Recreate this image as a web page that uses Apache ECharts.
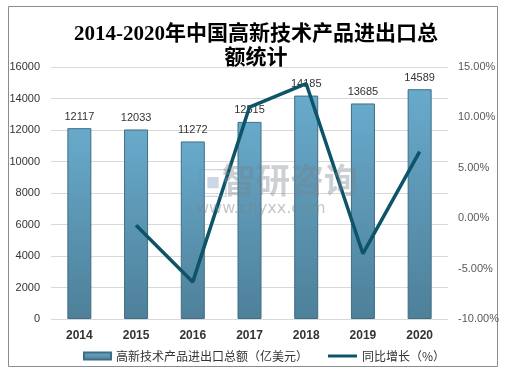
<!DOCTYPE html>
<html><head><meta charset="utf-8">
<script src="https://cdn.jsdelivr.net/npm/echarts@6/dist/echarts.min.js"></script>
<style>html,body{margin:0;padding:0;background:#fff}#c{width:528px;height:384px}</style>
</head><body><div id="c"></div>
<script>
var categories = ['2014','2015','2016','2017','2018','2019','2020'];
var totalValues = [12117, 12033, 11272, 12515, 14185, 13685, 14589];
var growthValues = [null, -0.69, -6.32, 11.03, 13.34, -3.52, 6.61];
var leftTicks = {min: 0, max: 16000, interval: 2000};
var rightTicks = {min: -10, max: 15, interval: 5};
var seriesNames = ['高新技术产品进出口总额（亿美元）', '同比增长（%）'];
var titleText = '2014-2020年中国高新技术产品进出口总\n额统计';

var chart = echarts.init(document.getElementById('c'));
var legendText = {fontSize: 12, color: '#333', fontFamily: 'Noto Sans CJK SC'};
chart.setOption({
  animation: false,
  backgroundColor: '#fff',
  title: {
    text: titleText, left: 251, top: 18, textAlign: 'center',
    textStyle: {fontFamily: 'Liberation Serif, Noto Sans CJK SC', fontWeight: 'bold', fontSize: 21, lineHeight: 24, color: '#000'}
  },
  graphic: [
    {type: 'rect', shape: {x: 8.5, y: 6.5, width: 489, height: 360}, style: {fill: 'none', stroke: '#8c8c8c', lineWidth: 1}, silent: true, z: 0},
    {type: 'text', left: 222, top: 163, style: {text: '智研咨询', font: 'bold 34px "Noto Sans CJK SC"', fill: 'rgba(120,130,140,0.38)'}, z: 100},
    {type: 'text', left: 196, top: 166, style: {text: '▣', font: '34px "Noto Sans CJK SC"', fill: 'rgba(110,140,180,0.35)'}, z: 100},
    {type: 'text', left: 196, top: 201, style: {text: 'www.chyxx.com', font: '16px "DejaVu Sans"', fill: 'rgba(120,130,140,0.45)'}, z: 100}
  ],
  grid: {left: 51, right: 80, top: 67, bottom: 65, containLabel: false},
  legend: [
    {left: 78, top: 345, itemWidth: 27, itemHeight: 7, itemGap: 3, textStyle: legendText,
     data: [{name: seriesNames[0], icon: 'rect'}]},
    {left: 323, top: 345, itemWidth: 29, itemHeight: 3, itemGap: 3, textStyle: legendText,
     data: [{name: seriesNames[1], icon: 'rect'}]}
  ],
  xAxis: {
    type: 'category', data: categories,
    axisLine: {show: false}, axisTick: {show: false},
    axisLabel: {fontSize: 12, fontWeight: 'bold', color: '#333', margin: 11, fontFamily: 'Liberation Sans'}
  },
  yAxis: [
    {type: 'value', min: leftTicks.min, max: leftTicks.max, interval: leftTicks.interval,
     axisLine: {show: false}, axisTick: {show: false},
     axisLabel: {fontSize: 11, color: '#333', margin: 11, fontFamily: 'Liberation Sans',
       formatter: function (v) { return String(v); }},
     splitLine: {lineStyle: {color: '#d9d9d9'}}},
    {type: 'value', min: rightTicks.min, max: rightTicks.max, interval: rightTicks.interval,
     axisLine: {show: false}, axisTick: {show: false}, splitLine: {show: false},
     axisLabel: {fontSize: 11, color: '#595959', margin: 10, fontFamily: 'Liberation Sans',
       formatter: function (v) { return v.toFixed(2) + '%'; }}}
  ],
  series: [
    {name: seriesNames[0], type: 'bar', data: totalValues, barWidth: 24, yAxisIndex: 0,
     itemStyle: {
       color: new echarts.graphic.LinearGradient(0, 0, 0, 1, [
         {offset: 0, color: '#68aacb'}, {offset: 1, color: '#4e8099'}]),
       borderColor: '#3f6e84', borderWidth: 1},
     label: {show: true, position: 'top', distance: 6, fontSize: 11, color: '#333', fontFamily: 'Liberation Sans'}},
    {name: seriesNames[1], type: 'line', data: growthValues, yAxisIndex: 1,
     showSymbol: false, symbol: 'none', z: 5,
     lineStyle: {color: '#0e5468', width: 3.5}, itemStyle: {color: '#0e5468'}}
  ]
});
</script></body></html>
